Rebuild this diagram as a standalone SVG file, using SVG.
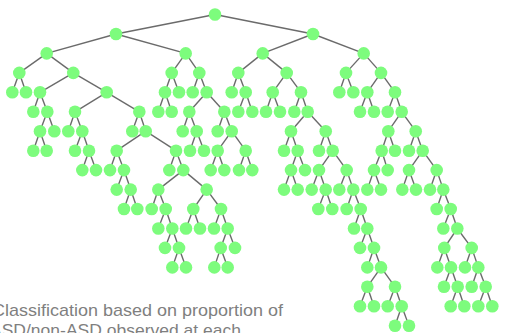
<svg xmlns="http://www.w3.org/2000/svg" width="508" height="333" viewBox="0 0 508 333">
<style>
.e line{stroke:#6b6b6b;stroke-width:1.4}
.n circle{fill:#7dfc7d}
.t{font-family:"Liberation Sans",Arial,sans-serif;font-size:17px;fill:#7f7f7f}
</style>
<rect width="508" height="333" fill="#ffffff"/>
<g id="connectors" class="e">
<line x1="215" y1="14.5" x2="116" y2="34"/><line x1="215" y1="14.5" x2="313" y2="34"/>
<line x1="116" y1="34" x2="46.7" y2="53.4"/><line x1="116" y1="34" x2="185.7" y2="53.4"/><line x1="313" y1="34" x2="262.7" y2="53.4"/><line x1="313" y1="34" x2="363.7" y2="53.4"/>
<line x1="46.7" y1="53.4" x2="19.3" y2="72.9"/><line x1="46.7" y1="53.4" x2="73.3" y2="72.9"/><line x1="185.7" y1="53.4" x2="171.7" y2="72.9"/><line x1="185.7" y1="53.4" x2="199.3" y2="72.9"/><line x1="262.7" y1="53.4" x2="238.3" y2="72.9"/><line x1="262.7" y1="53.4" x2="286.7" y2="72.9"/><line x1="363.7" y1="53.4" x2="346" y2="72.9"/><line x1="363.7" y1="53.4" x2="381" y2="72.9"/>
<line x1="19.3" y1="72.9" x2="12.3" y2="92.3"/><line x1="19.3" y1="72.9" x2="26" y2="92.3"/><line x1="73.3" y1="72.9" x2="40" y2="92.3"/><line x1="73.3" y1="72.9" x2="106.7" y2="92.3"/><line x1="171.7" y1="72.9" x2="165" y2="92.3"/><line x1="171.7" y1="72.9" x2="179" y2="92.3"/><line x1="199.3" y1="72.9" x2="192.7" y2="92.3"/><line x1="199.3" y1="72.9" x2="206.7" y2="92.3"/><line x1="238.3" y1="72.9" x2="231.7" y2="92.3"/><line x1="238.3" y1="72.9" x2="245.7" y2="92.3"/><line x1="286.7" y1="72.9" x2="272.7" y2="92.3"/><line x1="286.7" y1="72.9" x2="301" y2="92.3"/><line x1="346" y1="72.9" x2="339.3" y2="92.3"/><line x1="346" y1="72.9" x2="353.3" y2="92.3"/><line x1="381" y1="72.9" x2="367.3" y2="92.3"/><line x1="381" y1="72.9" x2="395" y2="92.3"/>
<line x1="40" y1="92.3" x2="33.3" y2="111.8"/><line x1="40" y1="92.3" x2="47.3" y2="111.8"/><line x1="106.7" y1="92.3" x2="75" y2="111.8"/><line x1="106.7" y1="92.3" x2="139.3" y2="111.8"/><line x1="165" y1="92.3" x2="158.3" y2="111.8"/><line x1="165" y1="92.3" x2="171.7" y2="111.8"/><line x1="206.7" y1="92.3" x2="189.3" y2="111.8"/><line x1="206.7" y1="92.3" x2="224.3" y2="111.8"/><line x1="245.7" y1="92.3" x2="238.3" y2="111.8"/><line x1="245.7" y1="92.3" x2="252.3" y2="111.8"/><line x1="272.7" y1="92.3" x2="266" y2="111.8"/><line x1="272.7" y1="92.3" x2="280" y2="111.8"/><line x1="301" y1="92.3" x2="294.3" y2="111.8"/><line x1="301" y1="92.3" x2="307.7" y2="111.8"/><line x1="367.3" y1="92.3" x2="360" y2="111.8"/><line x1="367.3" y1="92.3" x2="374" y2="111.8"/><line x1="395" y1="92.3" x2="387.7" y2="111.8"/><line x1="395" y1="92.3" x2="401.7" y2="111.8"/>
<line x1="47.3" y1="111.8" x2="40" y2="131.2"/><line x1="47.3" y1="111.8" x2="54.3" y2="131.2"/><line x1="75" y1="111.8" x2="68.3" y2="131.2"/><line x1="75" y1="111.8" x2="82.3" y2="131.2"/><line x1="139.3" y1="111.8" x2="132.3" y2="131.2"/><line x1="139.3" y1="111.8" x2="145.7" y2="131.2"/><line x1="189.3" y1="111.8" x2="182.7" y2="131.2"/><line x1="189.3" y1="111.8" x2="196.7" y2="131.2"/><line x1="224.3" y1="111.8" x2="217.7" y2="131.2"/><line x1="224.3" y1="111.8" x2="231.7" y2="131.2"/><line x1="307.7" y1="111.8" x2="291" y2="131.2"/><line x1="307.7" y1="111.8" x2="325.7" y2="131.2"/><line x1="401.7" y1="111.8" x2="388.3" y2="131.2"/><line x1="401.7" y1="111.8" x2="415.7" y2="131.2"/>
<line x1="40" y1="131.2" x2="33.3" y2="150.7"/><line x1="40" y1="131.2" x2="46.7" y2="150.7"/><line x1="82.3" y1="131.2" x2="75" y2="150.7"/><line x1="82.3" y1="131.2" x2="89" y2="150.7"/><line x1="145.7" y1="131.2" x2="116.7" y2="150.7"/><line x1="145.7" y1="131.2" x2="176" y2="150.7"/><line x1="196.7" y1="131.2" x2="190" y2="150.7"/><line x1="196.7" y1="131.2" x2="204" y2="150.7"/><line x1="231.7" y1="131.2" x2="217.7" y2="150.7"/><line x1="231.7" y1="131.2" x2="245.7" y2="150.7"/><line x1="291" y1="131.2" x2="284" y2="150.7"/><line x1="291" y1="131.2" x2="297.7" y2="150.7"/><line x1="325.7" y1="131.2" x2="319" y2="150.7"/><line x1="325.7" y1="131.2" x2="332.7" y2="150.7"/><line x1="388.3" y1="131.2" x2="381.7" y2="150.7"/><line x1="388.3" y1="131.2" x2="395" y2="150.7"/><line x1="415.7" y1="131.2" x2="409" y2="150.7"/><line x1="415.7" y1="131.2" x2="422.7" y2="150.7"/>
<line x1="89" y1="150.7" x2="82.3" y2="170.1"/><line x1="89" y1="150.7" x2="96" y2="170.1"/><line x1="116.7" y1="150.7" x2="110" y2="170.1"/><line x1="116.7" y1="150.7" x2="124" y2="170.1"/><line x1="176" y1="150.7" x2="169.3" y2="170.1"/><line x1="176" y1="150.7" x2="183.3" y2="170.1"/><line x1="217.7" y1="150.7" x2="210.7" y2="170.1"/><line x1="217.7" y1="150.7" x2="224.3" y2="170.1"/><line x1="245.7" y1="150.7" x2="239" y2="170.1"/><line x1="245.7" y1="150.7" x2="252.3" y2="170.1"/><line x1="297.7" y1="150.7" x2="291" y2="170.1"/><line x1="297.7" y1="150.7" x2="305" y2="170.1"/><line x1="332.7" y1="150.7" x2="319" y2="170.1"/><line x1="332.7" y1="150.7" x2="346.7" y2="170.1"/><line x1="381.7" y1="150.7" x2="374" y2="170.1"/><line x1="381.7" y1="150.7" x2="387.7" y2="170.1"/><line x1="422.7" y1="150.7" x2="409" y2="170.1"/><line x1="422.7" y1="150.7" x2="436.7" y2="170.1"/>
<line x1="124" y1="170.1" x2="116.7" y2="189.6"/><line x1="124" y1="170.1" x2="130.7" y2="189.6"/><line x1="183.3" y1="170.1" x2="158.3" y2="189.6"/><line x1="183.3" y1="170.1" x2="206.7" y2="189.6"/><line x1="291" y1="170.1" x2="284" y2="189.6"/><line x1="291" y1="170.1" x2="297.7" y2="189.6"/><line x1="319" y1="170.1" x2="311.7" y2="189.6"/><line x1="319" y1="170.1" x2="325.7" y2="189.6"/><line x1="346.7" y1="170.1" x2="339.3" y2="189.6"/><line x1="346.7" y1="170.1" x2="353.3" y2="189.6"/><line x1="374" y1="170.1" x2="367.3" y2="189.6"/><line x1="374" y1="170.1" x2="381" y2="189.6"/><line x1="409" y1="170.1" x2="402.3" y2="189.6"/><line x1="409" y1="170.1" x2="416" y2="189.6"/><line x1="436.7" y1="170.1" x2="430" y2="189.6"/><line x1="436.7" y1="170.1" x2="443.3" y2="189.6"/>
<line x1="130.7" y1="189.6" x2="124" y2="209"/><line x1="130.7" y1="189.6" x2="137.3" y2="209"/><line x1="158.3" y1="189.6" x2="151.7" y2="209"/><line x1="158.3" y1="189.6" x2="165.7" y2="209"/><line x1="206.7" y1="189.6" x2="193.3" y2="209"/><line x1="206.7" y1="189.6" x2="221" y2="209"/><line x1="325.7" y1="189.6" x2="318.3" y2="209"/><line x1="325.7" y1="189.6" x2="332.3" y2="209"/><line x1="353.3" y1="189.6" x2="346.7" y2="209"/><line x1="353.3" y1="189.6" x2="360.7" y2="209"/><line x1="443.3" y1="189.6" x2="436.7" y2="209"/><line x1="443.3" y1="189.6" x2="450.7" y2="209"/>
<line x1="165.7" y1="209" x2="158.3" y2="228.5"/><line x1="165.7" y1="209" x2="172.3" y2="228.5"/><line x1="193.3" y1="209" x2="186" y2="228.5"/><line x1="193.3" y1="209" x2="200" y2="228.5"/><line x1="221" y1="209" x2="214" y2="228.5"/><line x1="221" y1="209" x2="227.7" y2="228.5"/><line x1="360.7" y1="209" x2="354" y2="228.5"/><line x1="360.7" y1="209" x2="367.3" y2="228.5"/><line x1="450.7" y1="209" x2="443.3" y2="228.5"/><line x1="450.7" y1="209" x2="457.3" y2="228.5"/>
<line x1="172.3" y1="228.5" x2="165" y2="247.9"/><line x1="172.3" y1="228.5" x2="179" y2="247.9"/><line x1="227.7" y1="228.5" x2="220.7" y2="247.9"/><line x1="227.7" y1="228.5" x2="235" y2="247.9"/><line x1="367.3" y1="228.5" x2="360" y2="247.9"/><line x1="367.3" y1="228.5" x2="374" y2="247.9"/><line x1="457.3" y1="228.5" x2="444.3" y2="247.9"/><line x1="457.3" y1="228.5" x2="471.7" y2="247.9"/>
<line x1="179" y1="247.9" x2="172.3" y2="267.4"/><line x1="179" y1="247.9" x2="186" y2="267.4"/><line x1="220.7" y1="247.9" x2="214.3" y2="267.4"/><line x1="220.7" y1="247.9" x2="227.7" y2="267.4"/><line x1="374" y1="247.9" x2="367.3" y2="267.4"/><line x1="374" y1="247.9" x2="381" y2="267.4"/><line x1="444.3" y1="247.9" x2="437.3" y2="267.4"/><line x1="444.3" y1="247.9" x2="451" y2="267.4"/><line x1="471.7" y1="247.9" x2="465" y2="267.4"/><line x1="471.7" y1="247.9" x2="478.3" y2="267.4"/>
<line x1="381" y1="267.4" x2="367.3" y2="286.8"/><line x1="381" y1="267.4" x2="395" y2="286.8"/><line x1="451" y1="267.4" x2="444" y2="286.8"/><line x1="451" y1="267.4" x2="457.7" y2="286.8"/><line x1="478.3" y1="267.4" x2="471.7" y2="286.8"/><line x1="478.3" y1="267.4" x2="485.7" y2="286.8"/>
<line x1="367.3" y1="286.8" x2="360" y2="306.3"/><line x1="367.3" y1="286.8" x2="374" y2="306.3"/><line x1="395" y1="286.8" x2="387.7" y2="306.3"/><line x1="395" y1="286.8" x2="401.7" y2="306.3"/><line x1="457.7" y1="286.8" x2="450.7" y2="306.3"/><line x1="457.7" y1="286.8" x2="464.3" y2="306.3"/><line x1="485.7" y1="286.8" x2="478.3" y2="306.3"/><line x1="485.7" y1="286.8" x2="492.3" y2="306.3"/>
<line x1="401.7" y1="306.3" x2="395" y2="325.7"/><line x1="401.7" y1="306.3" x2="409" y2="325.7"/>
</g>
<g id="n0_0" class="n"><circle cx="215" cy="14.5" r="6.3"/></g>
<g id="n1_0" class="n"><circle cx="116" cy="34" r="6.3"/></g>
<g id="n1_1" class="n"><circle cx="313" cy="34" r="6.3"/></g>
<g id="n2_0" class="n"><circle cx="46.7" cy="53.4" r="6.3"/></g>
<g id="n2_1" class="n"><circle cx="185.7" cy="53.4" r="6.3"/></g>
<g id="n2_2" class="n"><circle cx="262.7" cy="53.4" r="6.3"/></g>
<g id="n2_3" class="n"><circle cx="363.7" cy="53.4" r="6.3"/></g>
<g id="n3_0" class="n"><circle cx="19.3" cy="72.9" r="6.3"/></g>
<g id="n3_1" class="n"><circle cx="73.3" cy="72.9" r="6.3"/></g>
<g id="n3_2" class="n"><circle cx="171.7" cy="72.9" r="6.3"/></g>
<g id="n3_3" class="n"><circle cx="199.3" cy="72.9" r="6.3"/></g>
<g id="n3_4" class="n"><circle cx="238.3" cy="72.9" r="6.3"/></g>
<g id="n3_5" class="n"><circle cx="286.7" cy="72.9" r="6.3"/></g>
<g id="n3_6" class="n"><circle cx="346" cy="72.9" r="6.3"/></g>
<g id="n3_7" class="n"><circle cx="381" cy="72.9" r="6.3"/></g>
<g id="n4_0" class="n"><circle cx="12.3" cy="92.3" r="6.3"/></g>
<g id="n4_1" class="n"><circle cx="26" cy="92.3" r="6.3"/></g>
<g id="n4_2" class="n"><circle cx="40" cy="92.3" r="6.3"/></g>
<g id="n4_3" class="n"><circle cx="106.7" cy="92.3" r="6.3"/></g>
<g id="n4_4" class="n"><circle cx="165" cy="92.3" r="6.3"/></g>
<g id="n4_5" class="n"><circle cx="179" cy="92.3" r="6.3"/></g>
<g id="n4_6" class="n"><circle cx="192.7" cy="92.3" r="6.3"/></g>
<g id="n4_7" class="n"><circle cx="206.7" cy="92.3" r="6.3"/></g>
<g id="n4_8" class="n"><circle cx="231.7" cy="92.3" r="6.3"/></g>
<g id="n4_9" class="n"><circle cx="245.7" cy="92.3" r="6.3"/></g>
<g id="n4_10" class="n"><circle cx="272.7" cy="92.3" r="6.3"/></g>
<g id="n4_11" class="n"><circle cx="301" cy="92.3" r="6.3"/></g>
<g id="n4_12" class="n"><circle cx="339.3" cy="92.3" r="6.3"/></g>
<g id="n4_13" class="n"><circle cx="353.3" cy="92.3" r="6.3"/></g>
<g id="n4_14" class="n"><circle cx="367.3" cy="92.3" r="6.3"/></g>
<g id="n4_15" class="n"><circle cx="395" cy="92.3" r="6.3"/></g>
<g id="n5_0" class="n"><circle cx="33.3" cy="111.8" r="6.3"/></g>
<g id="n5_1" class="n"><circle cx="47.3" cy="111.8" r="6.3"/></g>
<g id="n5_2" class="n"><circle cx="75" cy="111.8" r="6.3"/></g>
<g id="n5_3" class="n"><circle cx="139.3" cy="111.8" r="6.3"/></g>
<g id="n5_4" class="n"><circle cx="158.3" cy="111.8" r="6.3"/></g>
<g id="n5_5" class="n"><circle cx="171.7" cy="111.8" r="6.3"/></g>
<g id="n5_6" class="n"><circle cx="189.3" cy="111.8" r="6.3"/></g>
<g id="n5_7" class="n"><circle cx="224.3" cy="111.8" r="6.3"/></g>
<g id="n5_8" class="n"><circle cx="238.3" cy="111.8" r="6.3"/></g>
<g id="n5_9" class="n"><circle cx="252.3" cy="111.8" r="6.3"/></g>
<g id="n5_10" class="n"><circle cx="266" cy="111.8" r="6.3"/></g>
<g id="n5_11" class="n"><circle cx="280" cy="111.8" r="6.3"/></g>
<g id="n5_12" class="n"><circle cx="294.3" cy="111.8" r="6.3"/></g>
<g id="n5_13" class="n"><circle cx="307.7" cy="111.8" r="6.3"/></g>
<g id="n5_14" class="n"><circle cx="360" cy="111.8" r="6.3"/></g>
<g id="n5_15" class="n"><circle cx="374" cy="111.8" r="6.3"/></g>
<g id="n5_16" class="n"><circle cx="387.7" cy="111.8" r="6.3"/></g>
<g id="n5_17" class="n"><circle cx="401.7" cy="111.8" r="6.3"/></g>
<g id="n6_0" class="n"><circle cx="40" cy="131.2" r="6.3"/></g>
<g id="n6_1" class="n"><circle cx="54.3" cy="131.2" r="6.3"/></g>
<g id="n6_2" class="n"><circle cx="68.3" cy="131.2" r="6.3"/></g>
<g id="n6_3" class="n"><circle cx="82.3" cy="131.2" r="6.3"/></g>
<g id="n6_4" class="n"><circle cx="132.3" cy="131.2" r="6.3"/></g>
<g id="n6_5" class="n"><circle cx="145.7" cy="131.2" r="6.3"/></g>
<g id="n6_6" class="n"><circle cx="182.7" cy="131.2" r="6.3"/></g>
<g id="n6_7" class="n"><circle cx="196.7" cy="131.2" r="6.3"/></g>
<g id="n6_8" class="n"><circle cx="217.7" cy="131.2" r="6.3"/></g>
<g id="n6_9" class="n"><circle cx="231.7" cy="131.2" r="6.3"/></g>
<g id="n6_10" class="n"><circle cx="291" cy="131.2" r="6.3"/></g>
<g id="n6_11" class="n"><circle cx="325.7" cy="131.2" r="6.3"/></g>
<g id="n6_12" class="n"><circle cx="388.3" cy="131.2" r="6.3"/></g>
<g id="n6_13" class="n"><circle cx="415.7" cy="131.2" r="6.3"/></g>
<g id="n7_0" class="n"><circle cx="33.3" cy="150.7" r="6.3"/></g>
<g id="n7_1" class="n"><circle cx="46.7" cy="150.7" r="6.3"/></g>
<g id="n7_2" class="n"><circle cx="75" cy="150.7" r="6.3"/></g>
<g id="n7_3" class="n"><circle cx="89" cy="150.7" r="6.3"/></g>
<g id="n7_4" class="n"><circle cx="116.7" cy="150.7" r="6.3"/></g>
<g id="n7_5" class="n"><circle cx="176" cy="150.7" r="6.3"/></g>
<g id="n7_6" class="n"><circle cx="190" cy="150.7" r="6.3"/></g>
<g id="n7_7" class="n"><circle cx="204" cy="150.7" r="6.3"/></g>
<g id="n7_8" class="n"><circle cx="217.7" cy="150.7" r="6.3"/></g>
<g id="n7_9" class="n"><circle cx="245.7" cy="150.7" r="6.3"/></g>
<g id="n7_10" class="n"><circle cx="284" cy="150.7" r="6.3"/></g>
<g id="n7_11" class="n"><circle cx="297.7" cy="150.7" r="6.3"/></g>
<g id="n7_12" class="n"><circle cx="319" cy="150.7" r="6.3"/></g>
<g id="n7_13" class="n"><circle cx="332.7" cy="150.7" r="6.3"/></g>
<g id="n7_14" class="n"><circle cx="381.7" cy="150.7" r="6.3"/></g>
<g id="n7_15" class="n"><circle cx="395" cy="150.7" r="6.3"/></g>
<g id="n7_16" class="n"><circle cx="409" cy="150.7" r="6.3"/></g>
<g id="n7_17" class="n"><circle cx="422.7" cy="150.7" r="6.3"/></g>
<g id="n8_0" class="n"><circle cx="82.3" cy="170.1" r="6.3"/></g>
<g id="n8_1" class="n"><circle cx="96" cy="170.1" r="6.3"/></g>
<g id="n8_2" class="n"><circle cx="110" cy="170.1" r="6.3"/></g>
<g id="n8_3" class="n"><circle cx="124" cy="170.1" r="6.3"/></g>
<g id="n8_4" class="n"><circle cx="169.3" cy="170.1" r="6.3"/></g>
<g id="n8_5" class="n"><circle cx="183.3" cy="170.1" r="6.3"/></g>
<g id="n8_6" class="n"><circle cx="210.7" cy="170.1" r="6.3"/></g>
<g id="n8_7" class="n"><circle cx="224.3" cy="170.1" r="6.3"/></g>
<g id="n8_8" class="n"><circle cx="239" cy="170.1" r="6.3"/></g>
<g id="n8_9" class="n"><circle cx="252.3" cy="170.1" r="6.3"/></g>
<g id="n8_10" class="n"><circle cx="291" cy="170.1" r="6.3"/></g>
<g id="n8_11" class="n"><circle cx="305" cy="170.1" r="6.3"/></g>
<g id="n8_12" class="n"><circle cx="319" cy="170.1" r="6.3"/></g>
<g id="n8_13" class="n"><circle cx="346.7" cy="170.1" r="6.3"/></g>
<g id="n8_14" class="n"><circle cx="374" cy="170.1" r="6.3"/></g>
<g id="n8_15" class="n"><circle cx="387.7" cy="170.1" r="6.3"/></g>
<g id="n8_16" class="n"><circle cx="409" cy="170.1" r="6.3"/></g>
<g id="n8_17" class="n"><circle cx="436.7" cy="170.1" r="6.3"/></g>
<g id="n9_0" class="n"><circle cx="116.7" cy="189.6" r="6.3"/></g>
<g id="n9_1" class="n"><circle cx="130.7" cy="189.6" r="6.3"/></g>
<g id="n9_2" class="n"><circle cx="158.3" cy="189.6" r="6.3"/></g>
<g id="n9_3" class="n"><circle cx="206.7" cy="189.6" r="6.3"/></g>
<g id="n9_4" class="n"><circle cx="284" cy="189.6" r="6.3"/></g>
<g id="n9_5" class="n"><circle cx="297.7" cy="189.6" r="6.3"/></g>
<g id="n9_6" class="n"><circle cx="311.7" cy="189.6" r="6.3"/></g>
<g id="n9_7" class="n"><circle cx="325.7" cy="189.6" r="6.3"/></g>
<g id="n9_8" class="n"><circle cx="339.3" cy="189.6" r="6.3"/></g>
<g id="n9_9" class="n"><circle cx="353.3" cy="189.6" r="6.3"/></g>
<g id="n9_10" class="n"><circle cx="367.3" cy="189.6" r="6.3"/></g>
<g id="n9_11" class="n"><circle cx="381" cy="189.6" r="6.3"/></g>
<g id="n9_12" class="n"><circle cx="402.3" cy="189.6" r="6.3"/></g>
<g id="n9_13" class="n"><circle cx="416" cy="189.6" r="6.3"/></g>
<g id="n9_14" class="n"><circle cx="430" cy="189.6" r="6.3"/></g>
<g id="n9_15" class="n"><circle cx="443.3" cy="189.6" r="6.3"/></g>
<g id="n10_0" class="n"><circle cx="124" cy="209" r="6.3"/></g>
<g id="n10_1" class="n"><circle cx="137.3" cy="209" r="6.3"/></g>
<g id="n10_2" class="n"><circle cx="151.7" cy="209" r="6.3"/></g>
<g id="n10_3" class="n"><circle cx="165.7" cy="209" r="6.3"/></g>
<g id="n10_4" class="n"><circle cx="193.3" cy="209" r="6.3"/></g>
<g id="n10_5" class="n"><circle cx="221" cy="209" r="6.3"/></g>
<g id="n10_6" class="n"><circle cx="318.3" cy="209" r="6.3"/></g>
<g id="n10_7" class="n"><circle cx="332.3" cy="209" r="6.3"/></g>
<g id="n10_8" class="n"><circle cx="346.7" cy="209" r="6.3"/></g>
<g id="n10_9" class="n"><circle cx="360.7" cy="209" r="6.3"/></g>
<g id="n10_10" class="n"><circle cx="436.7" cy="209" r="6.3"/></g>
<g id="n10_11" class="n"><circle cx="450.7" cy="209" r="6.3"/></g>
<g id="n11_0" class="n"><circle cx="158.3" cy="228.5" r="6.3"/></g>
<g id="n11_1" class="n"><circle cx="172.3" cy="228.5" r="6.3"/></g>
<g id="n11_2" class="n"><circle cx="186" cy="228.5" r="6.3"/></g>
<g id="n11_3" class="n"><circle cx="200" cy="228.5" r="6.3"/></g>
<g id="n11_4" class="n"><circle cx="214" cy="228.5" r="6.3"/></g>
<g id="n11_5" class="n"><circle cx="227.7" cy="228.5" r="6.3"/></g>
<g id="n11_6" class="n"><circle cx="354" cy="228.5" r="6.3"/></g>
<g id="n11_7" class="n"><circle cx="367.3" cy="228.5" r="6.3"/></g>
<g id="n11_8" class="n"><circle cx="443.3" cy="228.5" r="6.3"/></g>
<g id="n11_9" class="n"><circle cx="457.3" cy="228.5" r="6.3"/></g>
<g id="n12_0" class="n"><circle cx="165" cy="247.9" r="6.3"/></g>
<g id="n12_1" class="n"><circle cx="179" cy="247.9" r="6.3"/></g>
<g id="n12_2" class="n"><circle cx="220.7" cy="247.9" r="6.3"/></g>
<g id="n12_3" class="n"><circle cx="235" cy="247.9" r="6.3"/></g>
<g id="n12_4" class="n"><circle cx="360" cy="247.9" r="6.3"/></g>
<g id="n12_5" class="n"><circle cx="374" cy="247.9" r="6.3"/></g>
<g id="n12_6" class="n"><circle cx="444.3" cy="247.9" r="6.3"/></g>
<g id="n12_7" class="n"><circle cx="471.7" cy="247.9" r="6.3"/></g>
<g id="n13_0" class="n"><circle cx="172.3" cy="267.4" r="6.3"/></g>
<g id="n13_1" class="n"><circle cx="186" cy="267.4" r="6.3"/></g>
<g id="n13_2" class="n"><circle cx="214.3" cy="267.4" r="6.3"/></g>
<g id="n13_3" class="n"><circle cx="227.7" cy="267.4" r="6.3"/></g>
<g id="n13_4" class="n"><circle cx="367.3" cy="267.4" r="6.3"/></g>
<g id="n13_5" class="n"><circle cx="381" cy="267.4" r="6.3"/></g>
<g id="n13_6" class="n"><circle cx="437.3" cy="267.4" r="6.3"/></g>
<g id="n13_7" class="n"><circle cx="451" cy="267.4" r="6.3"/></g>
<g id="n13_8" class="n"><circle cx="465" cy="267.4" r="6.3"/></g>
<g id="n13_9" class="n"><circle cx="478.3" cy="267.4" r="6.3"/></g>
<g id="n14_0" class="n"><circle cx="367.3" cy="286.8" r="6.3"/></g>
<g id="n14_1" class="n"><circle cx="395" cy="286.8" r="6.3"/></g>
<g id="n14_2" class="n"><circle cx="444" cy="286.8" r="6.3"/></g>
<g id="n14_3" class="n"><circle cx="457.7" cy="286.8" r="6.3"/></g>
<g id="n14_4" class="n"><circle cx="471.7" cy="286.8" r="6.3"/></g>
<g id="n14_5" class="n"><circle cx="485.7" cy="286.8" r="6.3"/></g>
<g id="n15_0" class="n"><circle cx="360" cy="306.3" r="6.3"/></g>
<g id="n15_1" class="n"><circle cx="374" cy="306.3" r="6.3"/></g>
<g id="n15_2" class="n"><circle cx="387.7" cy="306.3" r="6.3"/></g>
<g id="n15_3" class="n"><circle cx="401.7" cy="306.3" r="6.3"/></g>
<g id="n15_4" class="n"><circle cx="450.7" cy="306.3" r="6.3"/></g>
<g id="n15_5" class="n"><circle cx="464.3" cy="306.3" r="6.3"/></g>
<g id="n15_6" class="n"><circle cx="478.3" cy="306.3" r="6.3"/></g>
<g id="n15_7" class="n"><circle cx="492.3" cy="306.3" r="6.3"/></g>
<g id="n16_0" class="n"><circle cx="395" cy="325.7" r="6.3"/></g>
<g id="n16_1" class="n"><circle cx="409" cy="325.7" r="6.3"/></g>
<g id="caption">
<text class="t" x="-8" y="316" textLength="291" lengthAdjust="spacingAndGlyphs">Classification based on proportion of</text>
<text class="t" x="-10" y="336" textLength="251" lengthAdjust="spacingAndGlyphs">ASD/non-ASD observed at each</text>
</g>
</svg>
